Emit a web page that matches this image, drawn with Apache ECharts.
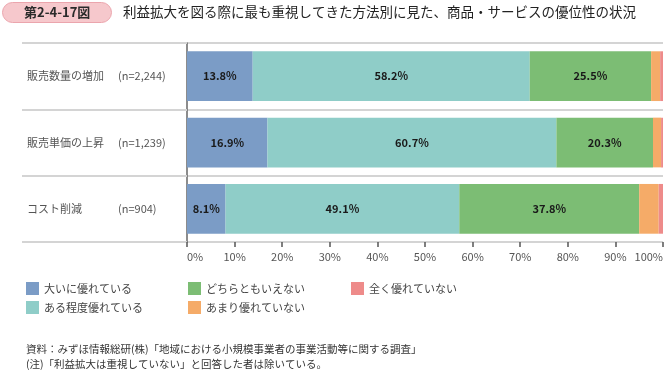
<!DOCTYPE html>
<html><head><meta charset="utf-8">
<script src="https://cdn.jsdelivr.net/npm/echarts@6/dist/echarts.min.js"></script>
<style>html,body{margin:0;padding:0;background:#fff}#c{width:664px;height:371px}</style>
</head><body><div id="c"></div>
<script>
const categories = ['販売数量の増加', '販売単価の上昇', 'コスト削減'];
const sampleSizes = ['(n=2,244)', '(n=1,239)', '(n=904)'];
const seriesNames = ['大いに優れている', 'ある程度優れている', 'どちらともいえない', 'あまり優れていない', '全く優れていない'];
const veryGood = [13.8, 16.9, 8.1];
const somewhatGood = [58.2, 60.7, 49.1];
const neutral = [25.5, 20.3, 37.8];
const notVeryGood = [1.9, 1.7, 4.1];
const notGoodAtAll = [0.6, 0.4, 0.9];
const xTicks = [0, 10, 20, 30, 40, 50, 60, 70, 80, 90, 100];
const colors = ['#7b9cc6', '#8fcdc8', '#7cbd74', '#f5ab68', '#ee8b8a'];
const values = [veryGood, somewhatGood, neutral, notVeryGood, notGoodAtAll];
const FONT = '"Noto Sans CJK JP", "Noto Sans", sans-serif';

const chart = echarts.init(document.getElementById('c'));
const series = seriesNames.map((name, i) => ({
  name, type: 'bar', stack: 'total', barWidth: '75%',
  data: values[i],
  itemStyle: { color: colors[i] },
  label: {
    show: i < 3, position: 'inside', formatter: '{c}%',
    fontSize: 11, fontWeight: 'bold', color: '#1a1a1a', fontFamily: FONT
  },
  emphasis: { disabled: true }
}));

const legendBase = {
  orient: 'vertical', top: 277,
  icon: 'rect', itemWidth: 13, itemHeight: 13, itemGap: 6, selectedMode: false,
  textStyle: { fontSize: 11, color: '#444', fontFamily: FONT }
};

chart.setOption({
  animation: false,
  textStyle: { fontFamily: FONT },
  title: [
    { text: '第2-4-17図', left: 2, top: 2, padding: [3, 21, 3, 22],
      backgroundColor: '#f6c8cc', borderColor: '#eba5ad', borderWidth: 1, borderRadius: 10,
      textStyle: { fontSize: 13, fontWeight: 'bold', color: '#2a2a2a', fontFamily: FONT, lineHeight: 15 } },
    { text: '利益拡大を図る際に最も重視してきた方法別に見た、商品・サービスの優位性の状況', left: 118, top: 0,
      textStyle: { fontSize: 13.5, fontWeight: 'normal', color: '#222', fontFamily: FONT } },
    { text: '資料：みずほ情報総研(株)「地域における小規模事業者の事業活動等に関する調査」', left: 21, top: 339,
      textStyle: { fontSize: 10.5, fontWeight: 'normal', color: '#333', fontFamily: FONT } },
    { text: '(注)「利益拡大は重視していない」と回答した者は除いている。', left: 21, top: 354,
      textStyle: { fontSize: 10.5, fontWeight: 'normal', color: '#333', fontFamily: FONT } }
  ],
  legend: [
    Object.assign({}, legendBase, { data: [seriesNames[0], seriesNames[1]], left: 21 }),
    Object.assign({}, legendBase, { data: [seriesNames[2], seriesNames[3]], left: 183 }),
    Object.assign({}, legendBase, { data: [seriesNames[4]], left: 346 })
  ],
  grid: { left: 187, right: 1, top: 43, height: 199, containLabel: false, outerBoundsMode: 'none' },
  xAxis: {
    type: 'value', min: 0, max: 100, interval: 10,
    axisLine: { show: false },
    axisTick: { show: true, length: 5, lineStyle: { color: '#555', width: 1.5 } },
    splitLine: { show: false },
    axisLabel: { formatter: v => xTicks.includes(v) ? v + '%' : '', fontSize: 11, color: '#555', margin: 9,
      alignMinLabel: 'left', alignMaxLabel: 'right' }
  },
  yAxis: {
    type: 'category', data: categories, inverse: true,
    axisLine: { show: true, lineStyle: { color: '#666', width: 1.5 } },
    axisTick: { show: true, inside: false, length: 165, lineStyle: { color: '#d4d4d4', width: 2 } },
    splitLine: { show: true, lineStyle: { color: '#d4d4d4', width: 2 } },
    axisLabel: {
      align: 'left', margin: 160,
      formatter: (v, i) => '{a|' + v + '}{b|' + sampleSizes[i] + '}',
      rich: {
        a: { width: 91, fontSize: 11, color: '#555', fontFamily: FONT },
        b: { fontSize: 11, color: '#555', fontFamily: FONT }
      }
    }
  },
  series
});
</script></body></html>
